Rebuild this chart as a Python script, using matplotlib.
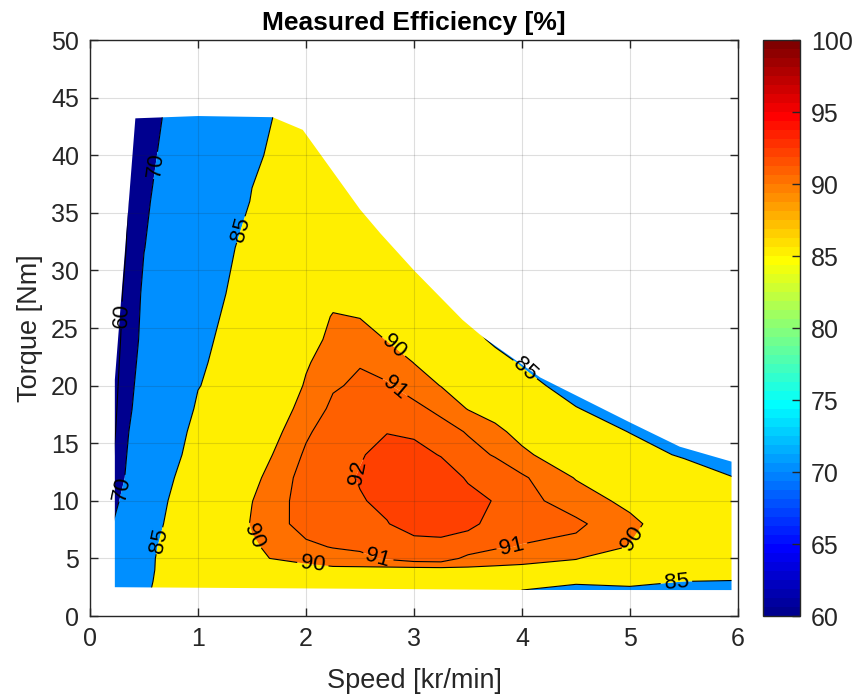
import numpy as np
import matplotlib
matplotlib.use("Agg")
import matplotlib.pyplot as plt
from matplotlib.colors import ListedColormap, Normalize
from matplotlib.patches import Polygon
from matplotlib.cm import ScalarMappable

plt.rcParams['font.family'] = ['Liberation Sans', 'DejaVu Sans']

# ---------------- data ----------------
speed = [0.2, 0.5, 1.0, 1.5, 2.0, 2.25, 2.5, 2.75, 3.0, 3.25, 3.5, 3.75, 4.0, 4.5, 5.0, 5.5, 6.0]
torque = [2, 3, 4, 5, 6, 8, 10, 12, 14, 16, 18, 20, 22, 24, 26, 28, 32, 36, 40, 44]

efficiency = [
    [76.0, 84.6, 88.0, 88.6, 88.8, 88.8, 88.8, 88.8, 88.8, 88.8, 88.3, 87.0, 84.7, 83.8, 84.2, 83.8, 83.5],
    [75.5, 84.5, 87.5, 88.8, 89.2, 89.3, 89.3, 89.3, 89.3, 89.3, 89.0, 88.3, 85.9, 85.4, 85.6, 85.0, 84.9],
    [75.0, 84.3, 87.8, 89.0, 89.71, 89.76, 89.73, 89.62, 89.57, 89.6, 89.77, 89.78, 89.73, 89.5, 88.3, 87.0, 86.0],
    [74.0, 84.2, 88.0, 89.88, 90.25, 90.55, 90.7, 91.15, 91.53, 91.6, 90.7, 90.4, 90.3, 90.05, 89.3, 88.0, 86.8],
    [72.5, 84.0, 88.0, 89.85, 90.8, 91.05, 91.2, 91.6, 91.72, 91.75, 91.65, 91.15, 90.93, 90.7, 89.95, 88.6, 87.3],
    [69.5, 83.3, 88.0, 90.1, 91.4, 91.6, 91.75, 91.97, 92.3, 92.35, 92.15, 91.8, 91.5, 91.2, 90.25, 89.2, 87.5],
    [66.0, 83.0, 87.5, 89.98, 91.45, 91.75, 91.95, 92.15, 92.55, 92.55, 92.3, 91.95, 91.35, 90.5, 89.73, 88.8, 86.3],
    [61.0, 83.2, 86.4, 89.7, 91.4, 91.75, 92.05, 92.25, 92.6, 92.5, 91.9, 91.8, 91.15, 89.94, 89.2, 87.0, 84.9],
    [58.5, 83.1, 85.8, 89.3, 91.15, 91.7, 91.95, 92.2, 92.3, 91.95, 91.45, 90.9, 90.25, 89.1, 86.4, 84.6, 83.5],
    [57.0, 81.4, 85.9, 88.9, 90.85, 91.5, 91.8, 91.98, 91.85, 91.5, 90.9, 90.3, 89.6, 86.8, 84.9, 83.5, 82.0],
    [56.5, 77.8, 85.6, 88.7, 90.4, 91.2, 91.45, 91.45, 91.3, 90.7, 89.95, 89.5, 88.2, 85.1, 83.8, 82.5, 81.0],
    [56.0, 76.0, 84.85, 87.65, 90.15, 90.9, 91.15, 91.1, 90.5, 89.97, 89.0, 88.0, 85.8, 84.0, 82.8, 81.5, 80.0],
    [55.5, 74.4, 84.5, 87.2, 89.85, 90.7, 90.95, 90.6, 89.98, 89.3, 88.3, 85.8, 84.8, 83.0, 81.8, 80.5, 79.0],
    [55.0, 73.0, 84.2, 86.9, 89.5, 90.3, 90.55, 89.95, 89.3, 88.6, 85.8, 84.6, 83.8, 82.0, 80.8, 79.5, 78.0],
    [54.5, 72.4, 83.9, 86.6, 89.1, 90.1, 89.95, 89.4, 88.8, 87.5, 84.9, 83.5, 82.8, 81.0, 79.8, 78.5, 77.0],
    [54.0, 71.8, 83.6, 86.3, 88.6, 89.5, 89.3, 88.8, 86.0, 85.2, 84.0, 82.5, 81.8, 80.0, 78.8, 77.5, 76.0],
    [52.0, 69.75, 83.0, 85.9, 87.8, 87.6, 86.8, 85.6, 85.0, 83.8, 82.5, 81.0, 80.0, 78.5, 77.0, 76.0, 75.0],
    [51.5, 68.5, 81.0, 85.17, 86.8, 86.0, 85.3, 84.5, 84.0, 82.8, 81.5, 80.0, 79.0, 77.5, 76.0, 75.0, 74.0],
    [51.0, 67.0, 79.5, 84.58, 86.5, 85.1, 84.3, 83.5, 83.0, 81.8, 80.5, 79.0, 78.0, 76.5, 75.0, 74.0, 73.0],
    [50.5, 66.0, 77.1, 84.2, 86.1, 84.5, 83.8, 83.0, 82.5, 81.3, 80.0, 78.5, 77.5, 76.0, 74.5, 73.5, 72.5],
]

# measured operating envelope (boundary of the map)
envelope_speed = [0.23, 2.7, 4.0, 5.94, 5.94, 5.46, 5.0, 4.17, 3.64, 3.45, 3.0, 2.69, 2.5,
                  1.97, 1.69, 1.0, 0.42, 0.23]
envelope_torque = [2.5, 2.35, 2.26, 2.25, 13.4, 14.7, 16.8, 20.7, 24.2, 25.7, 30.0, 33.2, 35.3,
                   42.2, 43.3, 43.4, 43.2, 20.5]

contour_levels = [60, 70, 85, 90, 91, 92]
fill_levels = [40, 70, 85, 90, 91, 92, 100]
cbar_ticks = [60, 65, 70, 75, 80, 85, 90, 95, 100]
x_ticks = [0, 1, 2, 3, 4, 5, 6]
y_ticks = [0, 5, 10, 15, 20, 25, 30, 35, 40, 45, 50]

label_positions = [(0.30, 26.1), (0.62, 39.1), (0.29, 11.1),
                   (1.42, 33.5), (0.66, 6.5), (4.03, 21.4), (5.43, 2.9),
                   (2.78, 23.1), (1.48, 6.8), (2.06, 4.25), (5.0, 6.8),
                   (2.82, 19.8), (2.67, 5.1), (3.91, 5.9),
                   (2.5, 12.4)]


# ---------------- MATLAB-style jet colormap ----------------
def matlab_jet(m=64):
    n = int(np.ceil(m / 4))
    u = np.concatenate([np.arange(1, n + 1) / n, np.ones(n - 1), np.arange(n, 0, -1) / n])
    g = int(np.ceil(n / 2)) - (1 if m % 4 == 1 else 0) + np.arange(1, len(u) + 1)
    r = g + n
    b = g - n
    J = np.zeros((m, 3))
    for ch, idxs in ((0, r), (1, g), (2, b)):
        for idx, val in zip(idxs, u):
            if 1 <= idx <= m:
                J[idx - 1, ch] = val
    return J


jet = matlab_jet(64)
vmin, vmax = 60, 100


def level_color(v):
    i = int(np.floor((v - vmin) / (vmax - vmin) * 64))
    i = min(max(i, 0), 63)
    return tuple(jet[i])


fill_colors = [level_color(max(v, vmin)) for v in fill_levels[:-1]]

# ---------------- figure ----------------
fig = plt.figure(figsize=(8.55, 6.98), dpi=100)
ax = fig.add_axes([90 / 855, 1 - 616 / 698, 648 / 855, 576 / 698])
cax = fig.add_axes([763 / 855, 1 - 616 / 698, 37 / 855, 576 / 698])

S, T = np.meshgrid(speed, torque)
Z = np.array(efficiency)

clip = Polygon(np.column_stack([envelope_speed, envelope_torque]), closed=True,
               facecolor='none', edgecolor='none', transform=ax.transData)
ax.add_patch(clip)

cf = ax.contourf(S, T, Z, levels=fill_levels, colors=fill_colors, antialiased=True)
cf.set_clip_path(clip)
cl = ax.contour(S, T, Z, levels=contour_levels, colors='k', linewidths=0.8)
cl.set_clip_path(clip)
ax.clabel(cl, fmt='%d', manual=label_positions, inline=True, inline_spacing=4,
          fontsize=16, colors='k')

dark = (0.15, 0.15, 0.15)
ax.set_xlim(0, 6)
ax.set_ylim(0, 50)
ax.set_xticks(x_ticks)
ax.set_yticks(y_ticks)
ax.grid(True, color=(0.15, 0.15, 0.15), alpha=0.15, linewidth=0.8)
ax.set_axisbelow(False)
ax.tick_params(direction='in', length=6, width=1, colors=dark, labelsize=18,
               top=True, right=True, pad=8)
for sp in ax.spines.values():
    sp.set_color(dark)
    sp.set_linewidth(1.0)
ax.set_xlabel('Speed [kr/min]', fontsize=19.5, color=dark, labelpad=12)
ax.set_ylabel('Torque [Nm]', fontsize=19.5, color=dark, labelpad=6)
ax.set_title('Measured Efficiency [%]', fontsize=19, fontweight='bold', color='k', pad=7)

sm = ScalarMappable(norm=Normalize(vmin, vmax), cmap=ListedColormap(jet))
cb = fig.colorbar(sm, cax=cax, ticks=cbar_ticks)
cb.outline.set_edgecolor(dark)
cb.outline.set_linewidth(1.0)
cax.tick_params(direction='in', length=6, width=1, colors=dark, labelsize=18, pad=8)

fig.savefig('out.png', dpi=100)
